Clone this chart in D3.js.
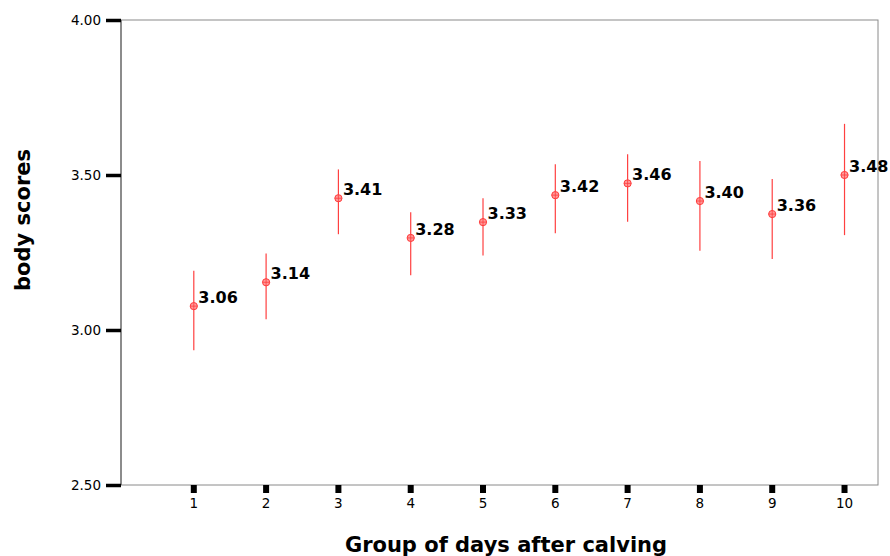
<!DOCTYPE html>
<html>
<head>
<meta charset="utf-8">
<script src="https://cdn.jsdelivr.net/npm/d3@7"></script>
<style>
  body { margin: 0; background: #fff; }
  svg { display: block; }
</style>
</head>
<body>
<svg width="890" height="556"></svg>
<script>
// groups of days after calving
const groups = [1, 2, 3, 4, 5, 6, 7, 8, 9, 10];
// plotted means and error bar ends
const means = [3.077, 3.154, 3.425, 3.297, 3.348, 3.435, 3.473, 3.416, 3.374, 3.500];
const lower = [2.935, 3.035, 3.309, 3.177, 3.240, 3.312, 3.349, 3.256, 3.229, 3.306];
const upper = [3.191, 3.247, 3.518, 3.380, 3.425, 3.535, 3.567, 3.545, 3.487, 3.665];
// data labels printed next to each point
const labels = ["3.06", "3.14", "3.41", "3.28", "3.33", "3.42", "3.46", "3.40", "3.36", "3.48"];
const yTicks = [2.5, 3.0, 3.5, 4.0];

const svg = d3.select('svg');
const plotLeft = 121, plotRight = 878, plotTop = 20, plotBottom = 485;

const x = d3.scaleLinear().domain([0, 10.47]).range([plotLeft, plotRight]);
const y = d3.scaleLinear().domain([2.5, 4.0]).range([plotBottom, plotTop]);

// frame
svg.append('rect')
    .attr('x', plotLeft).attr('y', plotTop)
    .attr('width', plotRight - plotLeft).attr('height', plotBottom - plotTop)
    .attr('fill', 'none')
    .attr('stroke', '#8a8a8a')
    .attr('stroke-width', 1);
svg.append('line')
    .attr('x1', plotLeft).attr('x2', plotLeft)
    .attr('y1', plotTop).attr('y2', plotBottom)
    .attr('stroke', '#555');

// y axis
const yAxis = svg.append('g')
    .attr('transform', `translate(${plotLeft},0)`)
    .call(d3.axisLeft(y).tickValues(yTicks).tickFormat(d3.format('.2f')).tickSize(15).tickPadding(5));
yAxis.select('.domain').remove();
yAxis.selectAll('.tick line').attr('stroke', '#000').attr('stroke-width', 3.5);
yAxis.selectAll('.tick text')
    .attr('font-family', 'DejaVu Sans, Verdana, sans-serif')
    .attr('font-size', 13.5)
    .attr('fill', '#000');

// x axis
const xAxis = svg.append('g')
    .attr('transform', `translate(0,${plotBottom})`)
    .call(d3.axisBottom(x).tickValues(groups).tickFormat(d3.format('d')).tickSize(8).tickPadding(5));
xAxis.select('.domain').remove();
xAxis.selectAll('.tick line').attr('stroke', '#000').attr('stroke-width', 6);
xAxis.selectAll('.tick text')
    .attr('font-family', 'DejaVu Sans, Verdana, sans-serif')
    .attr('font-size', 13.5)
    .attr('fill', '#000');

// error bars
svg.append('g')
    .selectAll('line')
    .data(groups)
    .enter()
    .append('line')
    .attr('x1', d => x(d) + 0.5).attr('x2', d => x(d) + 0.5)
    .attr('y1', (d, i) => y(upper[i]))
    .attr('y2', (d, i) => y(lower[i]))
    .attr('stroke', '#ff4040')
    .attr('stroke-width', 1.2);

// markers
const pts = svg.append('g')
    .selectAll('g')
    .data(groups)
    .enter()
    .append('g')
    .attr('transform', (d, i) => `translate(${x(d) + 0.5},${y(means[i])})`);
pts.append('circle')
    .attr('r', 3.6)
    .attr('fill', '#ff9a9a')
    .attr('stroke', '#ff3b3b')
    .attr('stroke-width', 1);
pts.append('path')
    .attr('d', 'M-3.6,0H3.6M0,-3.6V3.6')
    .attr('stroke', '#ff3b3b')
    .attr('stroke-width', 0.8);

// value labels
svg.append('g')
    .selectAll('text')
    .data(groups)
    .enter()
    .append('text')
    .attr('x', d => x(d) + 5)
    .attr('y', (d, i) => y(means[i]) - 3)
    .attr('font-family', 'DejaVu Sans, Verdana, sans-serif')
    .attr('font-weight', 'bold')
    .attr('font-size', 16)
    .attr('fill', '#000')
    .text((d, i) => labels[i]);

// axis titles
svg.append('text')
    .attr('x', 506).attr('y', 552)
    .attr('text-anchor', 'middle')
    .attr('font-family', 'DejaVu Sans, Verdana, sans-serif')
    .attr('font-weight', 'bold')
    .attr('font-size', 21)
    .text('Group of days after calving');

svg.append('text')
    .attr('transform', 'translate(30,220) rotate(-90)')
    .attr('text-anchor', 'middle')
    .attr('font-family', 'DejaVu Sans, Verdana, sans-serif')
    .attr('font-weight', 'bold')
    .attr('font-size', 21)
    .text('body scores');
</script>
</body>
</html>
